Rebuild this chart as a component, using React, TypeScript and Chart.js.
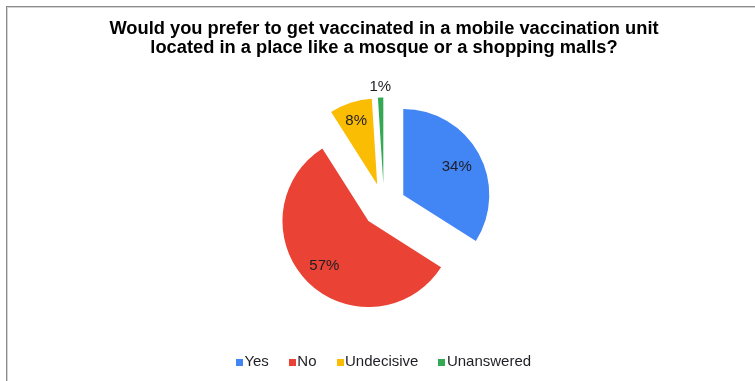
import React, { useEffect, useRef } from 'react';
import { Chart, registerables } from 'chart.js';

Chart.register(...registerables);

const categories = ['Yes', 'No', 'Undecisive', 'Unanswered'];
const percentages = [34, 57, 8, 1];
const sliceColors = ['#4285F4', '#EA4335', '#FBBC04', '#34A853'];
const titleLines = [
  'Would you prefer to get vaccinated in a mobile vaccination unit',
  'located in a place like a mosque or a shopping malls?',
];

// styling (not data)
const EXPLODE = 22;
const LABEL_RADIUS = [0.71, 0.725, 0.79, 1.14];
const FONT = "'Liberation Sans', Arial, sans-serif";
const TEXT_COLOR = '#1e1e24';

const explodePlugin = {
  id: 'explodePie',
  beforeDatasetDraw(chart: any, args: any) {
    const ctx = chart.ctx;
    args.meta.data.forEach((arc: any) => {
      const mid = (arc.startAngle + arc.endAngle) / 2;
      ctx.save();
      ctx.translate(Math.cos(mid) * EXPLODE, Math.sin(mid) * EXPLODE);
      arc.draw(ctx);
      ctx.restore();
    });
    return false;
  },
  afterDatasetsDraw(chart: any) {
    const ctx = chart.ctx;
    const meta = chart.getDatasetMeta(0);
    ctx.save();
    ctx.font = `15px ${FONT}`;
    ctx.fillStyle = TEXT_COLOR;
    ctx.textAlign = 'center';
    ctx.textBaseline = 'middle';
    meta.data.forEach((arc: any, i: number) => {
      const mid = (arc.startAngle + arc.endAngle) / 2;
      const d = EXPLODE + LABEL_RADIUS[i] * arc.outerRadius;
      const x = arc.x + Math.cos(mid) * d;
      const y = arc.y + Math.sin(mid) * d + 1;
      ctx.fillText(`${percentages[i]}%`, x, y);
    });
    ctx.restore();
  },
  afterDraw(chart: any) {
    const ctx = chart.ctx;
    const legend = chart.legend;
    if (!legend || !legend.legendHitBoxes) return;
    ctx.save();
    legend.legendHitBoxes.forEach((hb: any, i: number) => {
      const item = legend.legendItems[i];
      ctx.fillStyle = item.fillStyle;
      const cy = hb.top + hb.height / 2;
      ctx.fillRect(Math.round(hb.left - 1), Math.round(cy - 3), 7, 7);
    });
    ctx.restore();
  },
};

export default function App() {
  const canvasRef = useRef<HTMLCanvasElement | null>(null);

  useEffect(() => {
    if (!canvasRef.current) return;
    const chart = new Chart(canvasRef.current, {
      type: 'pie',
      data: {
        labels: categories,
        datasets: [
          {
            data: percentages,
            backgroundColor: sliceColors,
            borderWidth: 0,
          },
        ],
      },
      options: {
        responsive: false,
        animation: false,
        radius: 86,
        layout: { padding: { left: 13, right: 0, top: 0, bottom: 2 } },
        plugins: {
          tooltip: { enabled: false },
          title: {
            display: true,
            text: titleLines,
            color: '#000',
            font: { family: FONT, size: 18.3, weight: 'bold', lineHeight: 1.066 },
            padding: { top: 19, bottom: 20 },
          },
          legend: {
            display: true,
            position: 'bottom',
            labels: {
              boxWidth: 0,
              boxHeight: 7,
              padding: 21,
              color: TEXT_COLOR,
              font: { family: FONT, size: 15 },
            },
          },
        },
      } as any,
      plugins: [explodePlugin],
    });
    return () => chart.destroy();
  }, []);

  return (
    <div style={{ position: 'absolute', left: 0, top: 0, width: 755, height: 381, background: '#fff', overflow: 'hidden' }}>
      <div
        style={{
          position: 'absolute',
          left: 6,
          top: 6,
          width: 800,
          height: 400,
          borderLeft: '1px solid #8a8a8a',
          borderTop: '1px solid #8a8a8a',
        }}
      />
      <div
        style={{
          position: 'absolute',
          left: 7,
          top: 7,
          width: 800,
          height: 400,
          borderLeft: '1px solid #d4d4d4',
          borderTop: '1px solid #d4d4d4',
        }}
      />
      <canvas ref={canvasRef} width={755} height={381} style={{ position: 'absolute', left: 0, top: 0 }} />
    </div>
  );
}
